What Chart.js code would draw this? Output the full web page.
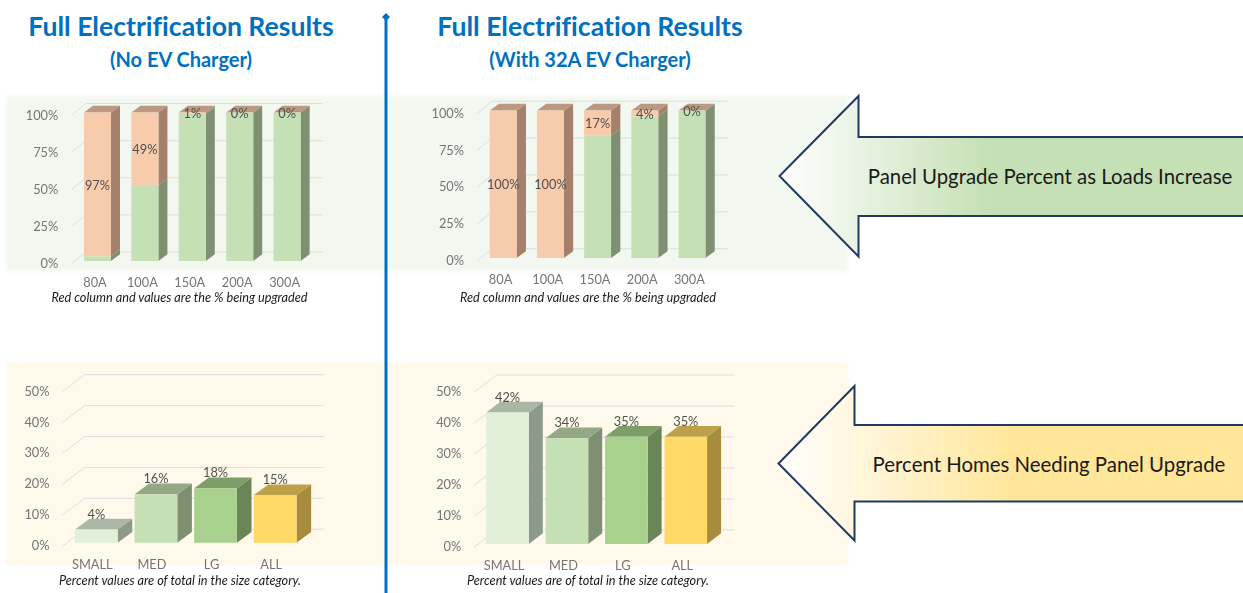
<!DOCTYPE html>
<html>
<head>
<meta charset="utf-8">
<title>Full Electrification Results</title>
<script src="https://cdn.jsdelivr.net/npm/chart.js@4/dist/chart.umd.min.js"></script>
<style>
    html, body { margin: 0; background: #fff; overflow: hidden; }
    body { width: 1243px; height: 593px; position: relative; font-family: Lato, sans-serif; font-variant-ligatures: none; }
    .bg { position: absolute; left: 6px; width: 842px; }
    #bg-top { top: 96px; height: 175px; background: #f2f7ef; filter: blur(2px); }
    #bg-bottom { top: 362px; height: 203px; background: #fff9ec; filter: blur(1px); }
    canvas { position: absolute; }
    svg { position: absolute; left: 0; top: 0; }
    .txt { position: absolute; white-space: nowrap; transform: translate(-50%, -50%); }
    .title { color: #0070c0; font-weight: 700; font-size: 26.6px; }
    .sub { color: #0070c0; font-weight: 700; font-size: 20px; }
    .note { color: #1a1a1a; font-style: italic; font-size: 12.7px; }
    .arrow-text { color: #1a1a1a; font-size: 20.4px; }
</style>
</head>
<body>
<div class="bg" id="bg-top"></div>
<div class="bg" id="bg-bottom"></div>

<svg width="1243" height="593">
    <defs>
        <linearGradient id="fade-green" gradientUnits="userSpaceOnUse" x1="779" y1="0" x2="990" y2="0">
            <stop offset="0" stop-color="#ffffff"/><stop offset="1" stop-color="#c5e0b4"/>
        </linearGradient>
        <linearGradient id="fade-yellow" gradientUnits="userSpaceOnUse" x1="778" y1="0" x2="1015" y2="0">
            <stop offset="0" stop-color="#ffffff"/><stop offset="1" stop-color="#ffe699"/>
        </linearGradient>
    </defs>
    <line x1="386" y1="16" x2="386" y2="593" stroke="#0070c0" stroke-width="3"/>
    <path d="M386 13 L390 17 L386 21 L382 17 Z" fill="#0070c0"/>
    <path d="M1245 137 H858.5 V96 L779.5 176 L858.5 256.5 V216 H1245" fill="url(#fade-green)" stroke="#203864" stroke-width="2"/>
    <path d="M1245 425 H854.5 V386 L778.5 463.5 L854.5 540.5 V501.5 H1245" fill="url(#fade-yellow)" stroke="#203864" stroke-width="2"/>
</svg>

<canvas id="chartNoEvPanel"></canvas>
<canvas id="chartEvPanel"></canvas>
<canvas id="chartNoEvSize"></canvas>
<canvas id="chartEvSize"></canvas>

<div class="txt title" style="left:181px;top:26px">Full Electrification Results</div>
<div class="txt sub" style="left:181px;top:59px">(No EV Charger)</div>
<div class="txt title" style="left:590px;top:26px">Full Electrification Results</div>
<div class="txt sub" style="left:590px;top:59px">(With 32A EV Charger)</div>
<div class="txt note" style="left:179.5px;top:297px">Red column and values are the % being upgraded</div>
<div class="txt note" style="left:588px;top:297px">Red column and values are the % being upgraded</div>
<div class="txt note" style="left:180px;top:580px">Percent values are of total in the size category.</div>
<div class="txt note" style="left:588px;top:580px">Percent values are of total in the size category.</div>
<div class="txt arrow-text" style="left:1050px;top:176px">Panel Upgrade Percent as Loads Increase</div>
<div class="txt arrow-text" style="left:1049px;top:463.5px">Percent Homes Needing Panel Upgrade</div>

<script>
// data
const panelSizes = ['80A', '100A', '150A', '200A', '300A'];
const homeSizes = ['SMALL', 'MED', 'LG', 'ALL'];
const noEvKept = [3, 51, 99, 100, 100];
const noEvUpgraded = [97, 49, 1, 0, 0];
const evKept = [0, 0, 83, 96, 100];
const evUpgraded = [100, 100, 17, 4, 0];
const noEvShare = [4.3, 15.7, 17.6, 15.4];
const evShare = [42.4, 34.1, 34.6, 34.6];

// colours
const keptColors = { front: '#c5e0b4', side: '#7f8f72', top: '#bd9880' };
const upgradedColors = { front: '#f8cbad', side: '#a5806a', top: '#bd9880' };
const sizeColors = {
    front: ['#e2efd9', '#c5e0b4', '#a9d18e', '#ffd966'],
    side: ['#8c9a8a', '#7f8f72', '#6a8558', '#a68c3c'],
    top: ['#aab7a2', '#93a985', '#7c9f67', '#bda04a']
};

const pick = (c, i) => Array.isArray(c) ? c[i] : c;

function poly(ctx, color, pts) {
    ctx.fillStyle = color;
    ctx.beginPath();
    pts.forEach((p, i) => i ? ctx.lineTo(p[0], p[1]) : ctx.moveTo(p[0], p[1]));
    ctx.closePath();
    ctx.fill();
}

// excel style 3d look: back wall grid, bar sides and tops, value labels
const bar3d = {
    id: 'bar3d',
    beforeDatasetsDraw(chart, args, o) {
        const { ctx, scales: { x, y } } = chart;
        ctx.save();
        ctx.strokeStyle = o.gridColor;
        ctx.lineWidth = 1;
        y.ticks.forEach(t => {
            const py = y.getPixelForValue(t.value);
            ctx.beginPath();
            ctx.moveTo(x.left, py);
            ctx.lineTo(x.left + o.wallDx, py - o.wallDy);
            ctx.lineTo(x.right + o.wallDx, py - o.wallDy);
            ctx.stroke();
        });
        ctx.translate(o.shiftX, o.shiftY);
        const sets = chart.data.datasets;
        sets.forEach((ds, d) => {
            chart.getDatasetMeta(d).data.forEach((el, i) => {
                const r = el.x + el.width / 2;
                poly(ctx, pick(ds.sideColor, i), [[r, el.y], [r + o.dx, el.y - o.dy], [r + o.dx, el.base - o.dy], [r, el.base]]);
                if (d === sets.length - 1) {
                    const l = el.x - el.width / 2;
                    poly(ctx, pick(ds.topColor, i), [[l, el.y], [l + o.dx, el.y - o.dy], [r + o.dx, el.y - o.dy], [r, el.y]]);
                }
            });
        });
    },
    afterDatasetsDraw(chart, args, o) {
        const ctx = chart.ctx;
        const last = chart.data.datasets.length - 1;
        ctx.font = '12.8px Lato';
        ctx.fillStyle = '#505050';
        ctx.textAlign = 'center';
        ctx.textBaseline = 'middle';
        chart.getDatasetMeta(last).data.forEach((el, i) => {
            const py = o.labelAbove ? el.y - 15 : (el.y + el.base) / 2 + 1;
            ctx.fillText(Math.round(chart.data.datasets[last].data[i]) + '%', el.x, py);
        });
        ctx.restore();
    }
};

function makeChart(id, box, area, labels, datasets, max, step, look) {
    const canvas = document.getElementById(id);
    canvas.width = box.w;
    canvas.height = box.h;
    canvas.style.left = box.x + 'px';
    canvas.style.top = box.y + 'px';
    const yWidth = 50, xHeight = 30;

    return new Chart(canvas, {
        type: 'bar',
        data: { labels: labels, datasets: datasets },
        plugins: [bar3d],
        options: {
            responsive: false,
            animation: false,
            layout: {
                padding: {
                    left: area.left - box.x - yWidth,
                    top: area.top - box.y,
                    right: box.x + box.w - area.right,
                    bottom: box.y + box.h - area.bottom - xHeight
                }
            },
            plugins: {
                legend: { display: false },
                tooltip: { enabled: false },
                bar3d: look
            },
            scales: {
                x: {
                    stacked: true,
                    afterFit: s => { s.height = xHeight; },
                    grid: { display: false },
                    border: { display: false },
                    ticks: { padding: 3.5, maxRotation: 0, color: '#757575', font: { family: 'Lato', size: 12.8 } }
                },
                y: {
                    stacked: true,
                    min: 0,
                    max: max,
                    afterFit: s => { s.width = yWidth; },
                    grid: { display: false },
                    border: { display: false },
                    ticks: { stepSize: step, padding: 5, color: '#757575', font: { family: 'Lato', size: 12.8 }, callback: v => v + '%' }
                }
            }
        }
    });
}

function stackedSets(kept, upgraded) {
    return [
        { data: kept, backgroundColor: keptColors.front, sideColor: keptColors.side, topColor: keptColors.top, barPercentage: 0.57, categoryPercentage: 1, clip: false },
        { data: upgraded, backgroundColor: upgradedColors.front, sideColor: upgradedColors.side, topColor: upgradedColors.top, barPercentage: 0.57, categoryPercentage: 1, clip: false }
    ];
}

function sizeSet(values) {
    return [{ data: values, backgroundColor: sizeColors.front, sideColor: sizeColors.side, topColor: sizeColors.top, barPercentage: 0.716, categoryPercentage: 1, clip: false }];
}

makeChart('chartNoEvPanel', { x: 0, y: 90, w: 384, h: 205 },
    { left: 71.3, top: 115.5, right: 308.3, bottom: 264 },
    panelSizes, stackedSets(noEvKept, noEvUpgraded), 100, 25,
    { dx: 9, dy: 6.7, shiftX: 2.5, shiftY: -3, wallDx: 14.5, wallDy: 12, gridColor: '#dcdedc', labelAbove: false });

makeChart('chartEvPanel', { x: 388, y: 90, w: 360, h: 205 },
    { left: 477, top: 113.5, right: 713, bottom: 261 },
    panelSizes, stackedSets(evKept, evUpgraded), 100, 25,
    { dx: 9.3, dy: 6.7, shiftX: 2.6, shiftY: -3, wallDx: 15, wallDy: 12.3, gridColor: '#dcdedc', labelAbove: false });

makeChart('chartNoEvSize', { x: 0, y: 365, w: 384, h: 225 },
    { left: 62.5, top: 391.5, right: 301, bottom: 546 },
    homeSizes, sizeSet(noEvShare), 50, 10,
    { dx: 14.6, dy: 10.7, shiftX: 4, shiftY: -3.3, wallDx: 22.3, wallDy: 16.8, gridColor: '#dcdde2', labelAbove: true });

makeChart('chartEvSize', { x: 388, y: 365, w: 360, h: 225 },
    { left: 474.3, top: 392, right: 712, bottom: 547 },
    homeSizes, sizeSet(evShare), 50, 10,
    { dx: 14, dy: 10.7, shiftX: 3.5, shiftY: -3, wallDx: 22.3, wallDy: 17, gridColor: '#dcdde2', labelAbove: true });
</script>
</body>
</html>
